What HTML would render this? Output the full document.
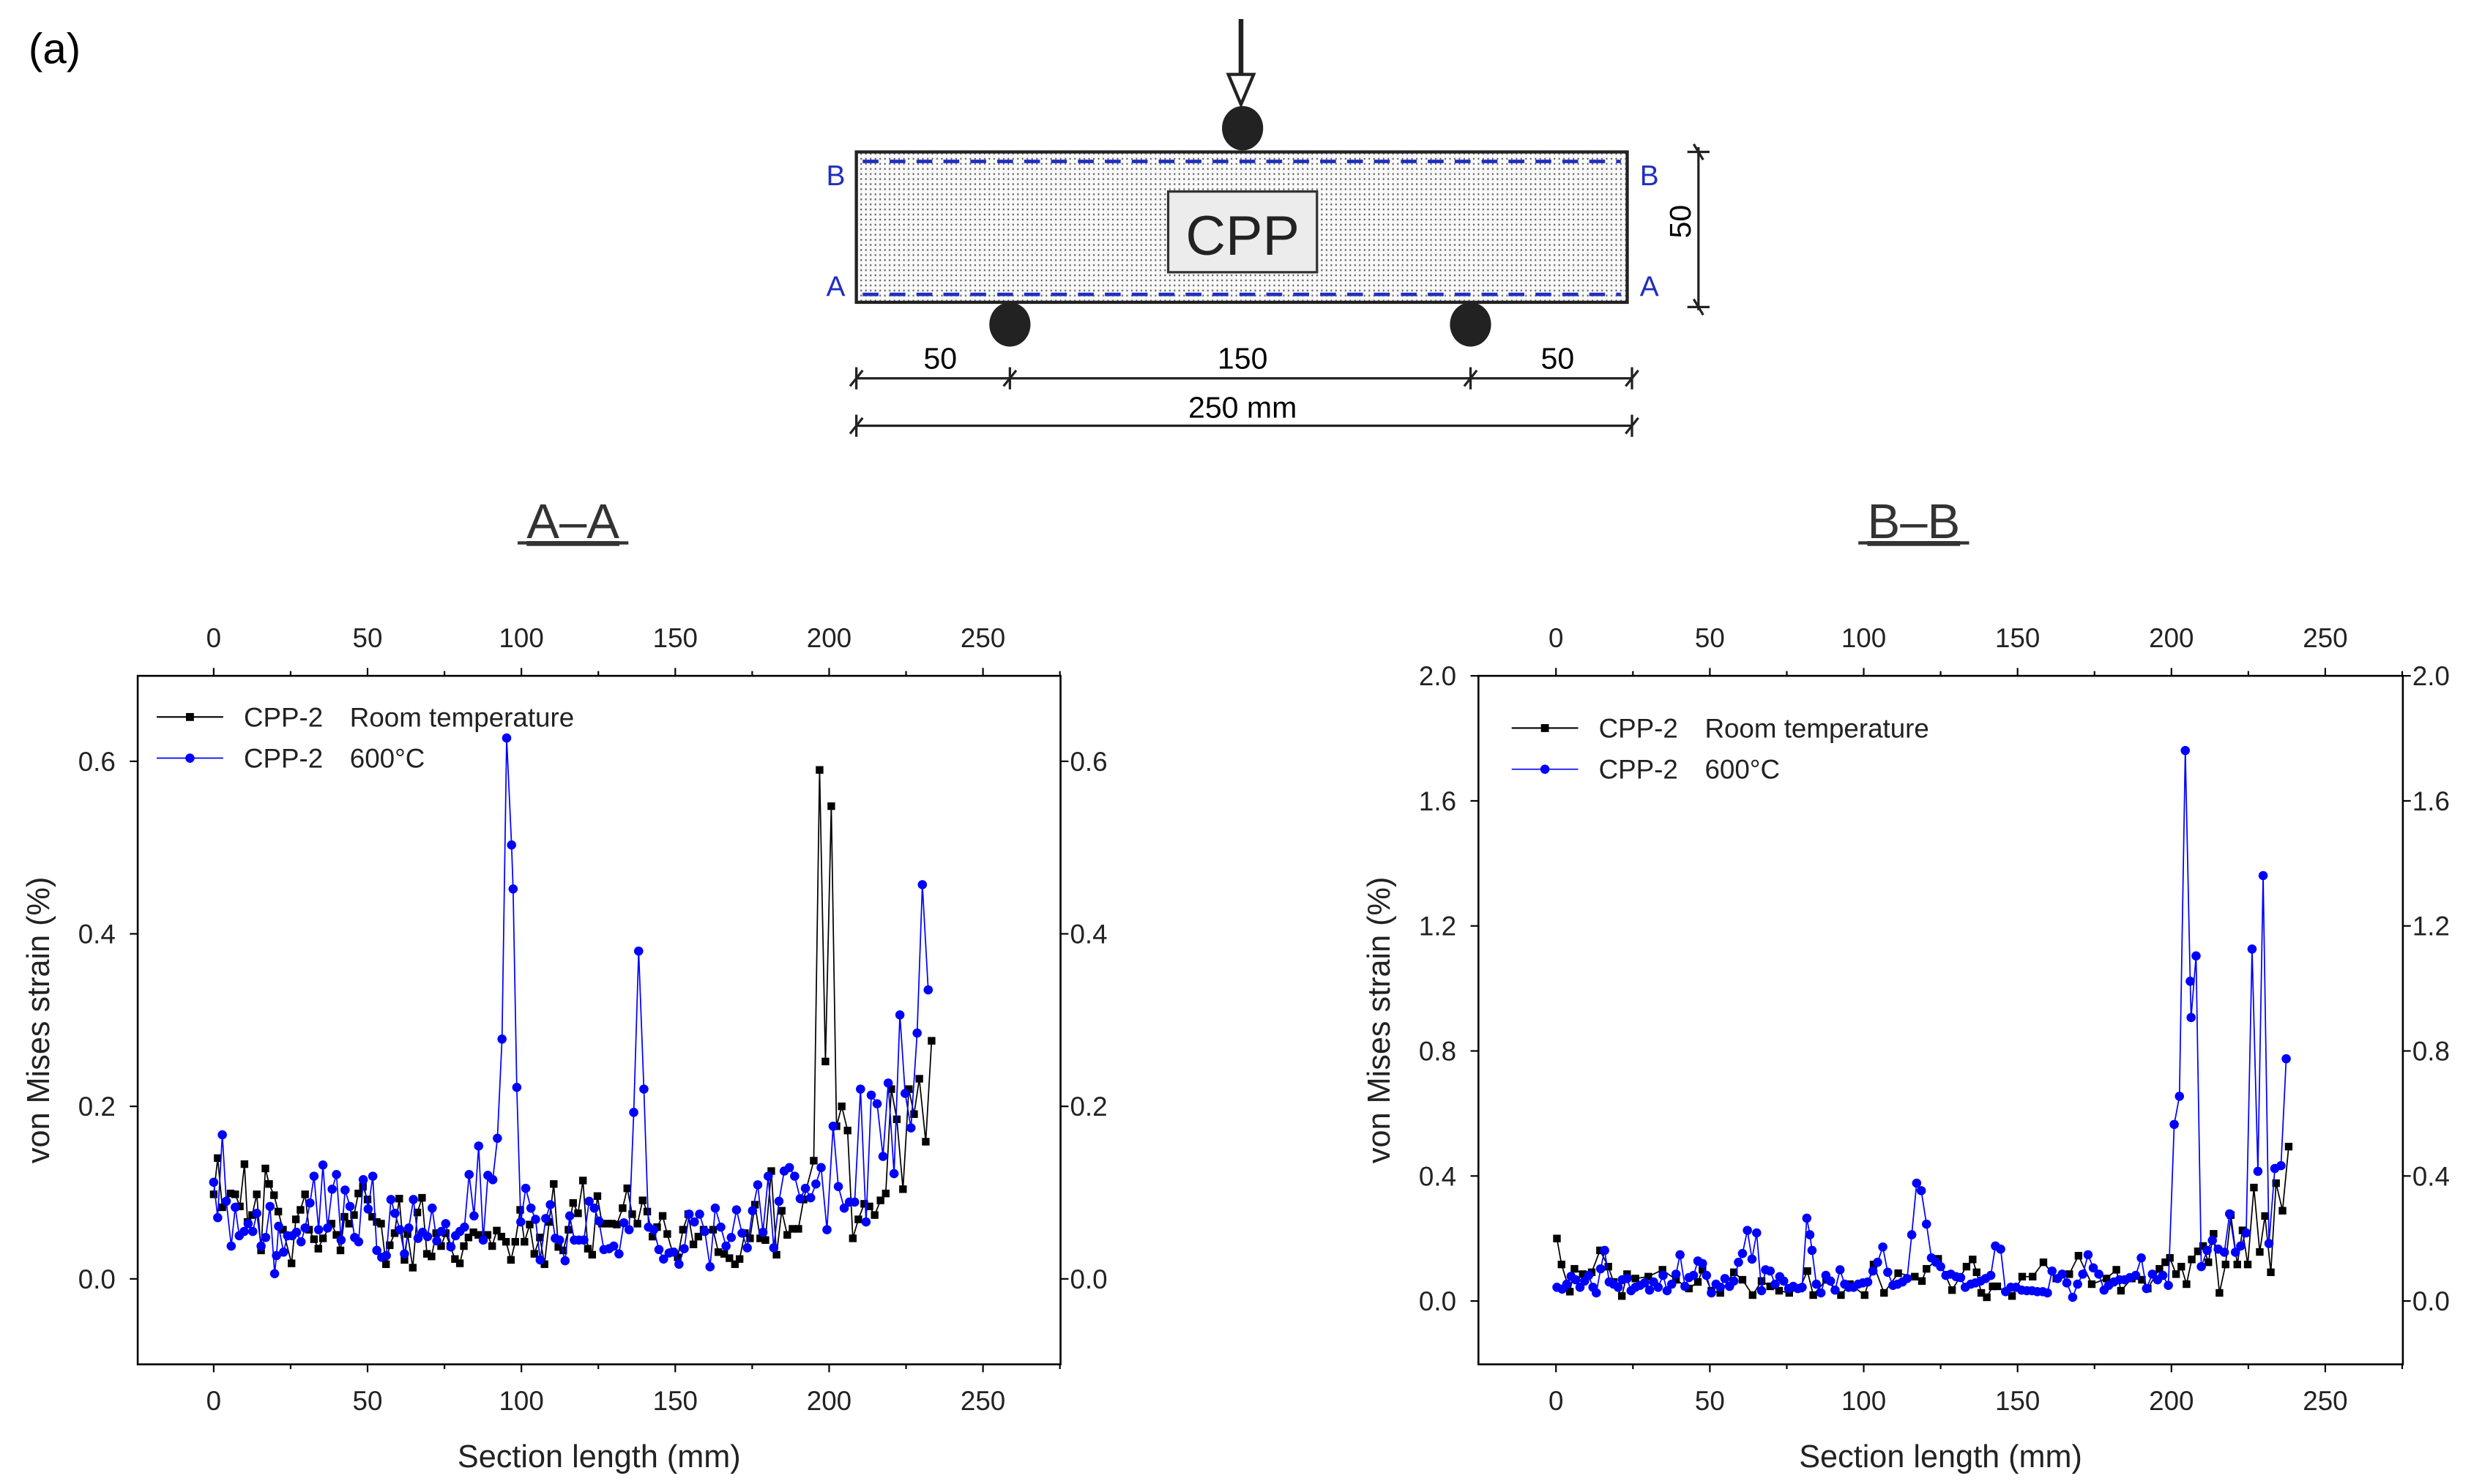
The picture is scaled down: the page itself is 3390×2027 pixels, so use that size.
<!DOCTYPE html>
<html><head><meta charset="utf-8">
<style>
html,body{margin:0;padding:0;background:#fff;}
svg{display:block;font-family:"Liberation Sans",Arial,sans-serif;}
</style></head>
<body>
<svg id="fig" width="3390" height="2027" viewBox="0 0 1568 937.6" preserveAspectRatio="none" xmlns="http://www.w3.org/2000/svg">
<defs>
<pattern id="dots" width="3" height="3.2" patternUnits="userSpaceOnUse"><rect x="0.6" y="0.6" width="0.9" height="1.1" fill="#555"/></pattern>
</defs>
<text x="18" y="40" font-size="27">(a)</text>
<!-- beam diagram -->
<g>
 <rect x="541" y="96" width="487" height="95" fill="#fafafa" stroke="none"/>
 <rect x="541" y="96" width="487" height="95" fill="url(#dots)" stroke="#222" stroke-width="2"/>
 <line x1="545" y1="102" x2="1024" y2="102" stroke="#1f2fbf" stroke-width="2.2" stroke-dasharray="10,7"/>
 <line x1="545" y1="186" x2="1024" y2="186" stroke="#1f2fbf" stroke-width="2.2" stroke-dasharray="10,7"/>
 <text x="528" y="117" font-size="18" fill="#1f2fbf" text-anchor="middle">B</text>
 <text x="1042" y="117" font-size="18" fill="#1f2fbf" text-anchor="middle">B</text>
 <text x="528" y="187" font-size="18" fill="#1f2fbf" text-anchor="middle">A</text>
 <text x="1042" y="187" font-size="18" fill="#1f2fbf" text-anchor="middle">A</text>
 <rect x="738" y="121" width="94" height="51" fill="#ececec" stroke="#333" stroke-width="1.5"/>
 <text x="785" y="161" font-size="35" text-anchor="middle" fill="#222">CPP</text>
 <line x1="784" y1="12" x2="784" y2="48" stroke="#222" stroke-width="3"/>
 <polygon points="776,47 792,47 784,66" fill="#fff" stroke="#222" stroke-width="2"/>
 <ellipse cx="785" cy="81" rx="13" ry="14" fill="#222"/>
 <ellipse cx="638" cy="205" rx="13" ry="14" fill="#222"/>
 <ellipse cx="929" cy="205" rx="13" ry="14" fill="#222"/>
 <g stroke="#222" stroke-width="1.5">
  <line x1="541" y1="239" x2="1031" y2="239"/>
  <line x1="541" y1="232" x2="541" y2="246"/><line x1="537" y1="244" x2="545" y2="234"/>
  <line x1="638" y1="232" x2="638" y2="246"/><line x1="634" y1="244" x2="642" y2="234"/>
  <line x1="929" y1="232" x2="929" y2="246"/><line x1="925" y1="244" x2="933" y2="234"/>
  <line x1="1031" y1="232" x2="1031" y2="246"/><line x1="1027" y1="244" x2="1035" y2="234"/>
  <line x1="541" y1="269" x2="1031" y2="269"/>
  <line x1="541" y1="262" x2="541" y2="276"/><line x1="537" y1="274" x2="545" y2="264"/>
  <line x1="1031" y1="262" x2="1031" y2="276"/><line x1="1027" y1="274" x2="1035" y2="264"/>
  <line x1="1073" y1="93" x2="1073" y2="196"/>
  <line x1="1066" y1="96" x2="1080" y2="96"/><line x1="1070" y1="91" x2="1076" y2="101"/>
  <line x1="1066" y1="194" x2="1080" y2="194"/><line x1="1070" y1="189" x2="1076" y2="199"/>
 </g>
 <text x="594" y="233" font-size="19" text-anchor="middle">50</text>
 <text x="785" y="233" font-size="19" text-anchor="middle">150</text>
 <text x="984" y="233" font-size="19" text-anchor="middle">50</text>
 <text x="785" y="264" font-size="19" text-anchor="middle">250 mm</text>
 <text x="0" y="0" font-size="19" text-anchor="middle" transform="translate(1068,140) rotate(-90)">50</text>
</g>
<g id="charts"></g>
</svg>
<script>
// ---- Data: A-A (left chart) ----
const aaRoomX=[0,1.3,2.8,5.5,7,8.5,10,11,12.5,14,15.4,16.8,18,19.6,21,22.5,25.3,26.7,28.2,29.7,31,32.6,34,35.5,38.3,39.9,41.2,42.5,44,45.6,47,48.5,50,51.5,53,54.4,56,57.2,58.8,60.3,62,63,64.7,66.2,67.7,69.3,70.8,72.3,73.9,75.4,76.9,78.4,80,81.3,82.8,84.4,86,87.4,89,90.5,92,93.5,95,96.6,98,99.6,101,102.7,104.2,106,107.5,109,110.5,112,113.6,115.3,116.8,118.4,120,121.6,123,124.7,126.2,128,129.4,131,132.9,134.4,136,137.7,139.4,140.9,142.6,144.1,145.9,147.4,149.1,150.8,152.5,154.2,155.9,157.5,159.2,162.3,164,165.9,167.6,169.4,170.9,172.6,174.3,175.9,177.6,179.3,181.2,182.9,184.6,186.4,188.1,190,191.7,195,196.9,198.8,200.7,202.4,204.1,206,207.7,209.5,211.4,213.1,214.8,216.7,218.4,220.2,222,224,225.9,227.6,229.3,231.4,233.3];
const aaRoomY=[0.098,0.14,0.083,0.099,0.098,0.084,0.133,0.066,0.074,0.098,0.033,0.128,0.11,0.097,0.078,0.057,0.018,0.069,0.08,0.098,0.057,0.046,0.035,0.047,0.064,0.051,0.033,0.072,0.064,0.074,0.099,0.107,0.092,0.072,0.066,0.064,0.017,0.039,0.053,0.093,0.022,0.052,0.013,0.077,0.094,0.029,0.026,0.053,0.038,0.053,0.038,0.023,0.018,0.038,0.048,0.054,0.051,0.047,0.051,0.038,0.056,0.049,0.043,0.022,0.043,0.08,0.043,0.063,0.029,0.048,0.017,0.066,0.11,0.037,0.033,0.057,0.088,0.076,0.114,0.035,0.028,0.096,0.064,0.064,0.064,0.063,0.082,0.105,0.075,0.064,0.091,0.078,0.049,0.06,0.073,0.052,0.031,0.025,0.057,0.075,0.04,0.049,0.057,0.057,0.031,0.029,0.024,0.017,0.023,0.053,0.047,0.086,0.047,0.045,0.125,0.028,0.079,0.051,0.058,0.058,0.092,0.137,0.59,0.252,0.548,0.177,0.2,0.172,0.047,0.069,0.087,0.084,0.074,0.091,0.099,0.22,0.185,0.104,0.22,0.191,0.232,0.159,0.276];
const aa600X=[0,1.3,2.8,4.1,5.7,7,8.3,9.9,11.2,12.7,14,15.4,16.9,18.3,19.8,20.4,21.1,22.7,24,25.5,26.9,28.4,29.7,31.3,32.6,34.1,35.5,37,38.5,39.9,41.4,42.7,44.3,45.8,47.1,48.6,50.2,51.7,53,54.6,56.1,57.6,58.9,60.5,62,63.4,64.9,66.4,67.9,69.5,71,72.5,74,75.4,77.1,78.6,80,81.5,83,84.6,86.1,87.6,89.1,90.7,92.2,93.7,95.2,96.8,97.3,98.5,99.8,101.4,103.1,104.6,106.1,107.9,109.4,111,112.4,114.2,115.7,117.2,118.7,120.3,122,123.7,125.2,126.8,128.5,130,131.7,133.3,135,136.5,138.1,139.8,141.3,143,144.7,146.2,148,149.5,151.2,152.9,154.5,156.2,157.9,159.6,161.3,163,164.8,166.5,168.2,169.9,171.7,173.4,175.1,176.8,178.5,180.2,182,183.7,185.4,187.1,188.8,190.6,192.3,194,195.7,197.4,199.3,201.3,203,204.9,206.6,208.3,210.2,212,213.7,215.6,217.5,219.2,221.1,223,224.7,226.6,228.6,230.3,232.2];
const aa600Y=[0.112,0.071,0.167,0.09,0.038,0.083,0.05,0.055,0.064,0.055,0.076,0.038,0.048,0.084,0.006,0.027,0.061,0.031,0.05,0.05,0.054,0.043,0.059,0.088,0.119,0.057,0.132,0.059,0.104,0.121,0.045,0.103,0.084,0.048,0.043,0.115,0.081,0.119,0.033,0.025,0.027,0.092,0.076,0.057,0.029,0.059,0.092,0.047,0.054,0.049,0.082,0.044,0.055,0.064,0.037,0.05,0.055,0.06,0.121,0.073,0.154,0.045,0.12,0.115,0.163,0.278,0.627,0.503,0.452,0.222,0.066,0.105,0.082,0.069,0.022,0.07,0.086,0.047,0.045,0.021,0.073,0.045,0.045,0.045,0.09,0.082,0.067,0.034,0.035,0.038,0.029,0.065,0.057,0.193,0.38,0.22,0.06,0.057,0.034,0.023,0.03,0.031,0.017,0.035,0.075,0.066,0.075,0.055,0.014,0.082,0.06,0.038,0.048,0.08,0.053,0.036,0.079,0.109,0.054,0.119,0.036,0.09,0.125,0.129,0.119,0.093,0.105,0.094,0.11,0.129,0.057,0.177,0.107,0.082,0.089,0.089,0.22,0.066,0.213,0.203,0.142,0.227,0.122,0.306,0.215,0.175,0.285,0.457,0.335];
// ---- Data: B-B (right chart) ----
const bbRoomX=[0.3,1.8,4.5,6,8.7,11.6,14.3,17,18.7,21.4,23.1,25.8,30,34.6,39,43.2,46.1,47.6,50.5,53.4,57.8,60.6,63.9,66.8,69.6,72.5,75.8,79.2,81.7,83.6,87.8,92.6,95.5,100.3,103.2,106.6,111.2,116.6,118.9,120.4,124.2,128.7,133.4,135.4,136.7,138.2,140,141.9,143.4,148.2,151.5,154.9,158.4,162.6,166.8,169.8,174.1,178.9,182.1,183.6,187.1,190.4,192.3,196.1,198,199.5,201.5,203.2,204.9,206.6,208.6,210.3,212,213.7,215.6,217.6,219.3,221.4,223.1,224.8,226.8,228.7,230.4,232.3,234,236.1,238.1];
const bbRoomY=[0.2,0.117,0.03,0.103,0.086,0.092,0.162,0.11,0.061,0.016,0.086,0.072,0.078,0.1,0.068,0.04,0.061,0.1,0.033,0.026,0.092,0.068,0.019,0.064,0.047,0.033,0.026,0.04,0.096,0.019,0.068,0.019,0.054,0.019,0.117,0.026,0.089,0.078,0.064,0.103,0.135,0.035,0.11,0.133,0.092,0.026,0.012,0.047,0.047,0.016,0.078,0.078,0.124,0.072,0.086,0.145,0.054,0.072,0.1,0.033,0.072,0.068,0.04,0.103,0.124,0.138,0.086,0.11,0.054,0.133,0.159,0.176,0.124,0.215,0.026,0.117,0.275,0.117,0.226,0.117,0.363,0.157,0.272,0.092,0.377,0.289,0.494];
const bb600X=[0.3,2,3.5,4.9,6.4,7.8,9.3,10.6,12,13.1,14.5,15.8,17.3,18.7,20.2,21.5,23.1,24.4,25.8,27.3,28.8,30.4,31.7,33.2,34.8,36.1,37.6,39,40.3,41.9,43.2,44.7,46.1,47.6,48.9,50.5,52,53.4,54.9,56.4,57.8,59.3,60.6,62.2,63.7,65.2,66.8,68.1,69.6,71.2,72.7,74,75.6,77.1,78.6,80,81.5,82.5,83.2,84.6,86.1,87.7,89.2,90.7,92.3,93.8,95.1,96.7,98.2,99.7,101.3,103,104.5,106.2,107.8,109.5,111,112.6,114.1,115.6,117.2,118.7,120.4,122,123.5,125,126.7,128.3,130,131.5,133,134.8,136.3,138,139.6,141.3,142.8,144.5,146.1,147.8,149.5,151.3,153,154.7,156.4,158.2,159.7,161.2,163,164.5,166,167.9,169.5,171.2,172.9,174.6,176.4,178.1,179.6,181.3,183.1,184.8,186.5,188.4,190.2,191.9,193.8,195.5,197.2,199,200.9,202.6,204.5,206.1,206.4,208,209.7,211.6,213.3,215.2,217.2,218.9,220.8,222.5,224.3,226.2,228.1,229.8,231.7,233.6,235.6,237.3];
const bb600Y=[0.044,0.038,0.054,0.079,0.068,0.044,0.064,0.082,0.044,0.026,0.103,0.162,0.061,0.054,0.044,0.068,0.072,0.033,0.044,0.05,0.058,0.035,0.061,0.044,0.082,0.033,0.054,0.086,0.148,0.047,0.075,0.082,0.128,0.12,0.082,0.026,0.054,0.044,0.072,0.047,0.064,0.124,0.152,0.226,0.134,0.218,0.033,0.1,0.096,0.054,0.078,0.064,0.04,0.047,0.04,0.044,0.265,0.212,0.162,0.054,0.026,0.082,0.064,0.035,0.1,0.054,0.044,0.044,0.054,0.058,0.061,0.096,0.124,0.173,0.092,0.05,0.054,0.061,0.072,0.212,0.377,0.353,0.246,0.138,0.124,0.11,0.082,0.086,0.078,0.075,0.044,0.054,0.058,0.064,0.072,0.082,0.176,0.166,0.03,0.044,0.044,0.035,0.033,0.033,0.03,0.03,0.026,0.096,0.072,0.086,0.058,0.012,0.054,0.086,0.148,0.106,0.086,0.035,0.05,0.061,0.068,0.068,0.075,0.082,0.138,0.04,0.086,0.068,0.082,0.05,0.565,0.655,1.761,1.023,0.907,1.104,0.11,0.162,0.194,0.166,0.156,0.279,0.156,0.176,0.218,1.126,0.415,1.361,0.184,0.424,0.433,0.775];
const xTicks=[0,50,100,150,200,250];
const aaYTicks=[0.0,0.2,0.4,0.6];
const bbYTicks=[0.0,0.4,0.8,1.2,1.6,2.0];

const NS='http://www.w3.org/2000/svg';
const root=document.getElementById('charts');
function mk(tag,attrs,parent){const e=document.createElementNS(NS,tag);for(const k in attrs)e.setAttribute(k,attrs[k]);(parent||root).appendChild(e);return e;}

function chart(cfg){
  const g=mk('g',{});
  
  
  const L=cfg.box[0],R=cfg.box[1],T=427,B=862;
  const sx=v=>cfg.x0+(v/250)*(cfg.x250-cfg.x0);
  const sy=v=>cfg.y0-(v/cfg.ymaxTick)*(cfg.y0-cfg.ytop);
  const frame=mk('rect',{x:L,y:T,width:R-L,height:B-T,fill:'none',stroke:'#000','stroke-width':1.2},g);
  
  
  // x ticks
  xTicks.forEach(t=>{
    const x=sx(t);
    mk('line',{x1:x,y1:B,x2:x,y2:B+5,stroke:'#000','stroke-width':1},g);
    mk('line',{x1:x,y1:T,x2:x,y2:T-5,stroke:'#000','stroke-width':1},g);
    const bl=mk('text',{x:x,y:B+29,'font-size':17,'text-anchor':'middle',fill:'#222'},g);
    bl.textContent=t;
    
    
    const tl=mk('text',{x:x,y:T-18,'font-size':17,'text-anchor':'middle',fill:'#222'},g);
    tl.textContent=t;
    
    
  });
  for(let t=25;t<=275;t+=50){const x=sx(t);if(x>L&&x<R){mk('line',{x1:x,y1:B,x2:x,y2:B+3,stroke:'#000'},g);mk('line',{x1:x,y1:T,x2:x,y2:T-3,stroke:'#000'},g);}}
  cfg.yTicks.forEach(t=>{
    const y=sy(t);
    mk('line',{x1:L,y1:y,x2:L-5,y2:y,stroke:'#000','stroke-width':1},g);
    mk('line',{x1:R,y1:y,x2:R+5,y2:y,stroke:'#000','stroke-width':1},g);
    const ll=mk('text',{x:L-14,y:y+6,'font-size':17,'text-anchor':'end',fill:'#222'},g);
    ll.textContent=t.toFixed(1);
    
    
    const rl=mk('text',{x:R+6,y:y+6,'font-size':17,'text-anchor':'start',fill:'#222'},g);
    rl.textContent=t.toFixed(1);
    
    
  });
  const xt=mk('text',{x:(L+R)/2,y:927,'font-size':20,'text-anchor':'middle',fill:'#222'},g);
  xt.textContent='Section length (mm)';
  
  
  const yt=mk('text',{x:0,y:0,'font-size':20,'text-anchor':'middle',fill:'#222',transform:`translate(${L-56},${(T+B)/2}) rotate(-90)`},g);
  yt.textContent='von Mises strain (%)';
  
  
  const tt=mk('text',{x:cfg.titleX,y:340,'font-size':31,'text-anchor':'middle',fill:'#333','text-decoration':'underline'},g);
  tt.textContent=cfg.title;
  
  
  mk('line',{x1:cfg.titleX-35,y1:343,x2:cfg.titleX+35,y2:343,stroke:'#333','stroke-width':2},g);
  // series
  function series(xs,ys,color,shape,nm){
    const sg=mk('g',{},g);
    
    
    const pts=xs.map((x,i)=>sx(x).toFixed(2)+','+sy(ys[i]).toFixed(2)).join(' ');
    mk('polyline',{points:pts,fill:'none',stroke:color,'stroke-width':0.8},sg);
    xs.forEach((x,i)=>{
      let m;
      if(shape==='sq') m=mk('rect',{x:sx(x)-2.4,y:sy(ys[i])-2.4,width:4.8,height:4.8,fill:color},sg);
      else m=mk('circle',{cx:sx(x),cy:sy(ys[i]),r:2.9,fill:color},sg);
      
      
    });
  }
  series(cfg.rx,cfg.ry,'#000','sq','series-room-temperature');
  series(cfg.bx,cfg.by,'#0000ff','ci','series-600c');
  // legend
  const lg=mk('g',{},g);
  
  
  const lx=cfg.leg[0],ly=cfg.leg[1];
  mk('line',{x1:lx,y1:ly,x2:lx+42,y2:ly,stroke:'#000','stroke-width':1},lg);
  mk('rect',{x:lx+18.5,y:ly-2.5,width:5,height:5,fill:'#000'},lg);
  mk('line',{x1:lx,y1:ly+26,x2:lx+42,y2:ly+26,stroke:'#0000ff','stroke-width':0.8},lg);
  mk('circle',{cx:lx+21,cy:ly+26,r:2.9,fill:'#0000ff'},lg);
  const a1=mk('text',{x:lx+55,y:ly+6,'font-size':17,fill:'#222'},lg);a1.textContent='CPP-2';
  
  
  const a2=mk('text',{x:lx+122,y:ly+6,'font-size':17,fill:'#222'},lg);a2.textContent='Room temperature';
  
  
  const b1=mk('text',{x:lx+55,y:ly+32,'font-size':17,fill:'#222'},lg);b1.textContent='CPP-2';
  
  
  const b2=mk('text',{x:lx+122,y:ly+32,'font-size':17,fill:'#222'},lg);b2.textContent='600°C';
  
  
}
chart({name:'chart-a-a',box:[87,670],x0:135,x250:621,y0:808,ytop:481,ymaxTick:0.6,yTicks:aaYTicks,title:'A–A',titleX:362,rx:aaRoomX,ry:aaRoomY,bx:aa600X,by:aa600Y,leg:[99,453]});
chart({name:'chart-b-b',box:[934,1518],x0:983,x250:1469,y0:822,ytop:427,ymaxTick:2.0,yTicks:bbYTicks,title:'B–B',titleX:1209,rx:bbRoomX,ry:bbRoomY,bx:bb600X,by:bb600Y,leg:[955,460]});
</script>
</body></html>
